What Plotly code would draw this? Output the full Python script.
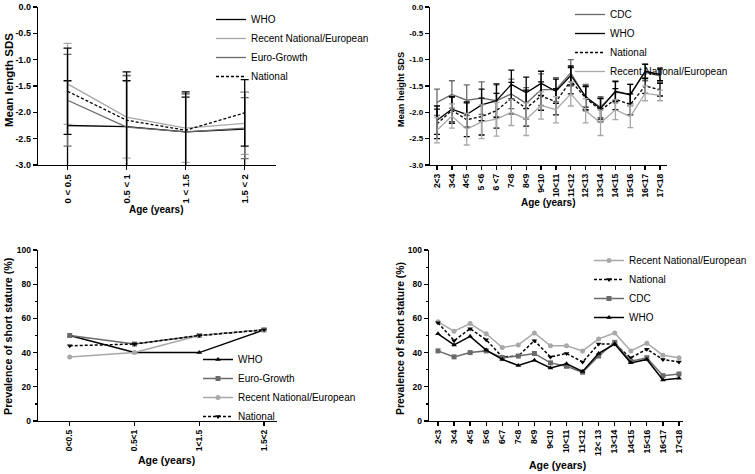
import plotly.graph_objects as go

# ---------------- data ----------------
# Panel A: mean length SDS, 0-2 years
ages_infant_a = ["0 < 0.5", "0.5 < 1", "1 < 1.5", "1.5 < 2"]
a_who = [-2.25, -2.27, -2.37, -2.32]
a_who_err = [0.85, 0.87, 0.66, 0.70]
a_recent = [-1.46, -2.09, -2.30, -2.21]
a_recent_err = [0.77, 0.78, 0.65, 0.59]
a_euro = [-1.77, -2.28, -2.37, -2.30]
a_euro_err = [0.87, 0.98, 0.72, 0.58]
a_national = [-1.60, -2.15, -2.34, -2.01]
a_national_err = [0.82, 0.92, 0.73, 0.63]

# Panel B: mean height SDS, 2-18 years
ages_child_b = ["2<3", "3<4", "4<5", "5 <6", "6 <7", "7<8", "8<9", "9<10", "10<11",
                "11<12", "12<13", "13<14", "14<15", "15<16", "16<17", "17<18"]
b_cdc = [-1.81, -1.66, -1.77, -1.73, -1.78, -1.65, -1.83, -1.57, -1.57, -1.25, -1.72, -1.90, -1.62, -1.65, -1.24, -1.31]
b_cdc_err = [0.25, 0.26, 0.29, 0.31, 0.30, 0.28, 0.30, 0.30, 0.23, 0.25, 0.25, 0.20, 0.20, 0.18, 0.16, 0.12]
b_who = [-2.15, -1.94, -2.04, -1.86, -1.78, -1.47, -1.63, -1.45, -1.60, -1.30, -1.70, -1.93, -1.60, -1.67, -1.22, -1.28]
b_who_err = [0.27, 0.24, 0.24, 0.30, 0.32, 0.27, 0.30, 0.23, 0.23, 0.18, 0.20, 0.20, 0.19, 0.20, 0.13, 0.12]
b_national = [-2.22, -1.96, -2.14, -2.08, -1.97, -1.73, -1.92, -1.69, -1.80, -1.40, -1.73, -1.96, -1.75, -1.85, -1.50, -1.57]
b_national_err = [0.28, 0.25, 0.32, 0.35, 0.33, 0.30, 0.34, 0.27, 0.25, 0.25, 0.22, 0.22, 0.20, 0.20, 0.14, 0.12]
b_recent = [-2.34, -2.07, -2.32, -2.18, -2.13, -2.00, -2.13, -1.87, -1.95, -1.65, -1.97, -2.20, -1.95, -2.08, -1.64, -1.68]
b_recent_err = [0.24, 0.23, 0.30, 0.32, 0.32, 0.25, 0.31, 0.26, 0.25, 0.23, 0.23, 0.24, 0.19, 0.21, 0.14, 0.10]

# Panel C: prevalence of short stature, 0-2 years
ages_infant_c = ["0<0.5", "0.5<1", "1<1.5", "1.5<2"]
c_who = [50, 40, 40, 53.3]
c_euro = [50, 45, 50, 53.3]
c_recent = [37.5, 40, 50, 53.3]
c_national = [44, 45, 50, 53.3]

# Panel D: prevalence of short stature, 2-18 years
ages_child_d = ["2<3", "3<4", "4<5", "5<6", "6<7", "7<8", "8<9", "9<10", "10<11",
                "11<12", "12< 13", "13<14", "14<15", "15<16", "16<17", "17<18"]
d_recent = [58, 52.5, 57, 51, 43, 44.5, 51.5, 44, 44, 41, 48, 51.5, 41, 45.5, 38.5, 37]
d_national = [57.5, 47, 54, 47.5, 37.5, 38, 47, 37.5, 39.5, 34.5, 45, 45, 37, 42, 36, 34.5]
d_cdc = [41, 37.5, 40, 41, 37, 38, 39.5, 34, 32, 28.5, 38, 46, 35, 37, 26.5, 27.5]
d_who = [51, 44.5, 49.5, 41.5, 36, 32.5, 35.5, 31, 33.5, 29, 39.5, 45, 34, 36, 24, 25]

sds_ticks = [0, -0.5, -1.0, -1.5, -2.0, -2.5, -3.0]
sds_ticktext = ["0.0", "-0.5", "-1.0", "-1.5", "-2.0", "-2.5", "-3.0"]
prev_ticks = [0, 20, 40, 60, 80, 100]
prev_minor = [10, 30, 50, 70, 90]

# ---------------- styles ----------------
BLACK = "#000000"
MID = "#6a6a6a"
LIGHT = "#a8a8a8"
FONT = "Liberation Sans, Arial, sans-serif"
DASH = "3px,2px"

fig = go.Figure()


def sds_trace(x, y, err, name, color, dash, xa, ya, leg, cap):
    fig.add_trace(go.Scatter(
        x=x, y=y, name=name, mode="lines",
        line=dict(color=color, width=1.3, dash=dash),
        error_y=dict(type="data", array=err, visible=True, color=color,
                     thickness=1.3, width=cap),
        xaxis=xa, yaxis=ya, legend=leg))


def prev_trace(x, y, name, color, dash, symbol, xa, ya, leg):
    fig.add_trace(go.Scatter(
        x=x, y=y, name=name, mode="lines+markers",
        line=dict(color=color, width=1.5, dash=dash),
        marker=dict(color=color, size=5, symbol=symbol),
        xaxis=xa, yaxis=ya, legend=leg))


# Panel A
sds_trace(ages_infant_a, a_who, a_who_err, "WHO", BLACK, "solid", "x", "y", "legend", 4)
sds_trace(ages_infant_a, a_recent, a_recent_err, "Recent National/European", LIGHT, "solid", "x", "y", "legend", 4)
sds_trace(ages_infant_a, a_euro, a_euro_err, "Euro-Growth", MID, "solid", "x", "y", "legend", 4)
sds_trace(ages_infant_a, a_national, a_national_err, "National", BLACK, DASH, "x", "y", "legend", 4)

# Panel B
sds_trace(ages_child_b, b_cdc, b_cdc_err, "CDC", MID, "solid", "x2", "y2", "legend2", 3)
sds_trace(ages_child_b, b_who, b_who_err, "WHO", BLACK, "solid", "x2", "y2", "legend2", 3)
sds_trace(ages_child_b, b_national, b_national_err, "National", BLACK, DASH, "x2", "y2", "legend2", 3)
sds_trace(ages_child_b, b_recent, b_recent_err, "Recent National/European", LIGHT, "solid", "x2", "y2", "legend2", 3)

# Panel C
prev_trace(ages_infant_c, c_who, "WHO", BLACK, "solid", "triangle-up", "x3", "y3", "legend3")
prev_trace(ages_infant_c, c_euro, "Euro-Growth", MID, "solid", "square", "x3", "y3", "legend3")
prev_trace(ages_infant_c, c_recent, "Recent National/European", LIGHT, "solid", "circle", "x3", "y3", "legend3")
prev_trace(ages_infant_c, c_national, "National", BLACK, DASH, "triangle-down", "x3", "y3", "legend3")

# Panel D
prev_trace(ages_child_d, d_recent, "Recent National/European", LIGHT, "solid", "circle", "x4", "y4", "legend4")
prev_trace(ages_child_d, d_national, "National", BLACK, DASH, "triangle-down", "x4", "y4", "legend4")
prev_trace(ages_child_d, d_cdc, "CDC", MID, "solid", "square", "x4", "y4", "legend4")
prev_trace(ages_child_d, d_who, "WHO", BLACK, "solid", "triangle-up", "x4", "y4", "legend4")

W, H = 755, 474


def px_x(v):
    return v / W


def px_y(v):
    return 1 - v / H


def xaxis(domain, rng, anchor, size):
    return dict(domain=domain, range=rng, anchor=anchor, type="category",
                showline=True, linecolor=BLACK, linewidth=1.3, mirror=False,
                ticks="outside", ticklen=4, tickwidth=1.3, tickcolor=BLACK,
                tickangle=-90, showgrid=False, zeroline=False, automargin=False,
                tickfont=dict(family=FONT, size=size, color=BLACK, weight="bold"))


def yaxis(domain, rng, anchor, size, tickvals, ticktext=None, minor=None):
    d = dict(domain=domain, range=rng, anchor=anchor, automargin=False,
             showline=True, linecolor=BLACK, linewidth=1.3,
             ticks="outside", ticklen=4, tickwidth=1.3, tickcolor=BLACK,
             showgrid=False, zeroline=False, tickmode="array", tickvals=tickvals,
             tickfont=dict(family=FONT, size=size, color=BLACK, weight="bold"))
    if ticktext is not None:
        d["ticktext"] = ticktext
    if minor is not None:
        d["minor"] = dict(tickmode="array", tickvals=minor, ticks="outside",
                          ticklen=2, tickwidth=1.2, tickcolor=BLACK, showgrid=False)
    return d


top_dom = [px_y(165), px_y(7)]
bot_dom = [px_y(421), px_y(250)]

legend_common = dict(xanchor="left", yanchor="top", bgcolor="rgba(0,0,0,0)",
                     font=dict(family=FONT, size=10, color=BLACK),
                     tracegroupgap=0, itemwidth=30, borderwidth=0)

fig.update_layout(
    width=W, height=H, margin=dict(l=0, r=0, t=0, b=0, autoexpand=False),
    paper_bgcolor="white", plot_bgcolor="white",
    font=dict(family=FONT, color=BLACK),
    xaxis=xaxis([px_x(38), px_x(276)], [-0.5, 3.53], "y", 9.5),
    yaxis=yaxis(top_dom, [-3, 0], "x", 9, sds_ticks, sds_ticktext),
    xaxis2=xaxis([px_x(430), px_x(667)], [-0.47, 15.47], "y2", 8.5),
    yaxis2=yaxis(top_dom, [-3, 0], "x2", 8, sds_ticks, sds_ticktext),
    xaxis3=xaxis([px_x(38), px_x(277)], [-0.49, 3.2], "y3", 8.5),
    yaxis3=yaxis(bot_dom, [0, 100], "x3", 8.5, prev_ticks, minor=prev_minor),
    xaxis4=xaxis([px_x(429), px_x(683)], [-0.56, 15.25], "y4", 8.5),
    yaxis4=yaxis(bot_dom, [0, 100], "x4", 8.5, prev_ticks, minor=prev_minor),
    legend=dict(legend_common, x=px_x(211), y=px_y(5)),
    legend2=dict(legend_common, x=px_x(570), y=px_y(0)),
    legend3=dict(legend_common, x=px_x(198), y=px_y(345)),
    legend4=dict(legend_common, x=px_x(589), y=px_y(246)),
)

title_font = dict(family=FONT, color=BLACK, weight="bold")
annos = [
    ("Age (years)", px_x(156), px_y(209), 0, 10),
    ("Age (years)", px_x(548), px_y(202), 0, 10),
    ("Age (years)", px_x(166), px_y(460), 0, 10.5),
    ("Age (years)", px_x(557), px_y(465), 0, 10.5),
    ("Mean length SDS", px_x(9), px_y(80), -90, 11.5),
    ("Mean height SDS", px_x(401), px_y(90), -90, 9.2),
    ("Prevalence of short stature (%)", px_x(8), px_y(336), -90, 10.7),
    ("Prevalence of short stature (%)", px_x(400), px_y(339), -90, 10.4),
]
for text, x, y, ang, size in annos:
    fig.add_annotation(text=text, x=x, y=y, xref="paper", yref="paper",
                       xanchor="center", yanchor="middle", showarrow=False,
                       textangle=ang, font=dict(title_font, size=size))

fig.write_html("out.html",
               config={"displayModeBar": False, "staticPlot": True},
               post_script="document.body.style.margin='0';document.body.style.overflow='hidden';")
